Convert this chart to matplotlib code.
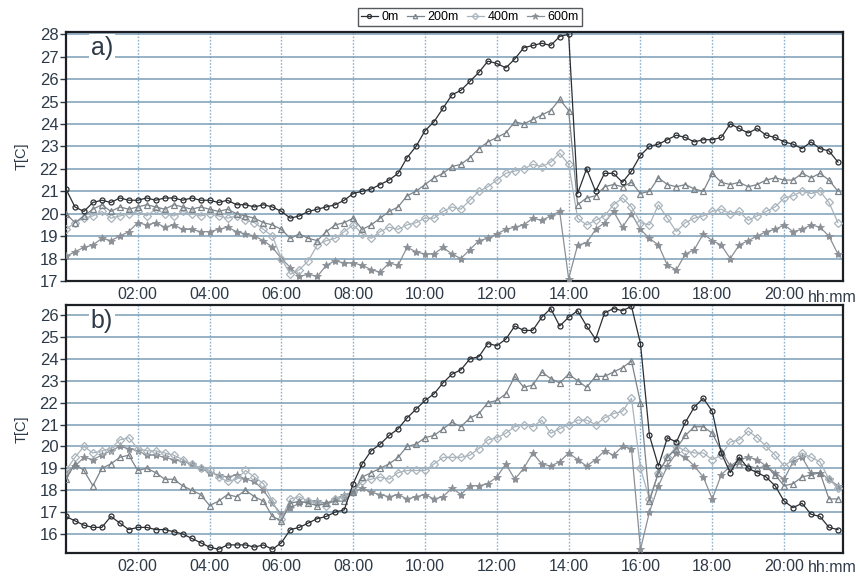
import matplotlib
matplotlib.use("Agg")
import matplotlib.pyplot as plt
import numpy as np

plt.rcParams["font.family"] = ["Liberation Sans", "DejaVu Sans"]

# time axis in hours, 15-minute steps
step_h = 0.25
n_pts = 87
hours = np.arange(n_pts) * step_h

series_labels = ["0m", "200m", "400m", "600m"]
tick_hours = [2, 4, 6, 8, 10, 12, 14, 16, 18, 20]
tick_labels = ["02:00", "04:00", "06:00", "08:00", "10:00",
               "12:00", "14:00", "16:00", "18:00", "20:00"]

# ---- panel a) ----
a_0m = [21.1, 20.3, 20.1, 20.5, 20.6, 20.5, 20.7, 20.6,
        20.6, 20.7, 20.6, 20.7, 20.7, 20.6, 20.7, 20.6,
        20.6, 20.5, 20.6, 20.4, 20.4, 20.3, 20.4, 20.3,
        20.1, 19.8, 19.9, 20.1, 20.2, 20.3, 20.4, 20.6,
        20.9, 21.0, 21.1, 21.3, 21.5, 21.8, 22.5, 23.0,
        23.7, 24.1, 24.7, 25.3, 25.5, 25.9, 26.3, 26.8,
        26.7, 26.5, 26.9, 27.4, 27.5, 27.6, 27.5, 27.9,
        28.0, 20.9, 22.0, 21.0, 21.8, 21.8, 21.4, 21.9,
        22.6, 23.0, 23.1, 23.3, 23.5, 23.4, 23.2, 23.3,
        23.3, 23.4, 24.0, 23.8, 23.6, 23.8, 23.5, 23.4,
        23.2, 23.1, 22.9, 23.2, 22.9, 22.8, 22.3]
a_200m = [20.0, 19.6, 19.9, 20.2, 20.4, 20.1, 20.3, 20.2,
          20.3, 20.4, 20.3, 20.2, 20.4, 20.3, 20.2, 20.3,
          20.2, 20.1, 20.2, 20.0, 19.9, 19.8, 19.6, 19.5,
          19.3, 18.9, 19.1, 18.9, 18.8, 19.2, 19.5, 19.6,
          19.8, 19.3, 19.5, 19.8, 20.1, 20.3, 20.8, 21.0,
          21.3, 21.6, 21.8, 22.1, 22.2, 22.5, 22.9, 23.2,
          23.4, 23.6, 24.1, 24.0, 24.2, 24.4, 24.6, 25.1,
          24.6, 20.4, 20.7, 20.8, 21.2, 21.3, 21.2, 21.4,
          20.9, 21.0, 21.6, 21.3, 21.2, 21.3, 21.1, 21.0,
          21.8, 21.4, 21.3, 21.4, 21.2, 21.3, 21.5, 21.6,
          21.5, 21.5, 21.8, 21.6, 21.8, 21.5, 21.0]
a_400m = [19.3, 19.6, 19.8, 19.9, 20.1, 19.8, 19.9, 20.0,
          20.1, 19.9, 20.2, 20.0, 19.9, 20.1, 20.0, 19.9,
          20.0, 19.9, 19.8, 19.9, 19.7, 19.6, 19.3, 19.0,
          18.0, 17.3, 17.5, 17.9, 18.6, 18.8, 18.9, 19.2,
          19.5, 19.1, 18.9, 19.2, 19.4, 19.3, 19.5, 19.6,
          19.8, 19.8, 20.1, 20.3, 20.2, 20.6, 21.0, 21.2,
          21.5, 21.8, 21.9, 22.0, 22.2, 22.1, 22.3, 22.7,
          22.2, 19.8, 19.5, 19.7, 19.9, 20.4, 20.7, 20.3,
          19.6, 19.5, 20.4, 19.8, 19.2, 19.6, 19.8, 19.9,
          20.1, 20.2, 20.0, 20.1, 19.7, 19.9, 20.1, 20.3,
          20.7, 20.8, 21.0, 20.9, 21.0, 20.5, 19.6]
a_600m = [18.1, 18.3, 18.5, 18.6, 18.9, 18.8, 19.0, 19.2,
          19.6, 19.5, 19.6, 19.4, 19.5, 19.3, 19.3, 19.2,
          19.2, 19.3, 19.4, 19.2, 19.1, 19.0, 18.8, 18.5,
          18.0, 17.6, 17.2, 17.3, 17.2, 17.7, 17.9, 17.8,
          17.8, 17.7, 17.5, 17.4, 17.8, 17.7, 18.5, 18.3,
          18.2, 18.2, 18.5, 18.2, 18.0, 18.4, 18.8, 18.9,
          19.1, 19.3, 19.4, 19.5, 19.8, 19.7, 19.9, 20.1,
          17.1, 18.6, 18.7, 19.3, 19.6, 20.1, 19.4, 20.0,
          19.3, 18.9, 18.6, 17.7, 17.5, 18.2, 18.4, 19.1,
          18.8, 18.6, 18.0, 18.6, 18.8, 19.0, 19.2, 19.3,
          19.5, 19.2, 19.3, 19.5, 19.4, 19.0, 18.2]

# ---- panel b) ----
b_0m = [16.8, 16.6, 16.4, 16.3, 16.3, 16.8, 16.5, 16.2,
        16.3, 16.3, 16.2, 16.2, 16.1, 16.0, 15.8, 15.6,
        15.4, 15.3, 15.5, 15.5, 15.5, 15.4, 15.5, 15.3,
        15.6, 16.2, 16.3, 16.5, 16.7, 16.8, 17.0, 17.1,
        18.3, 19.2, 19.8, 20.1, 20.5, 20.8, 21.3, 21.7,
        22.1, 22.4, 22.9, 23.3, 23.5, 24.0, 24.1, 24.7,
        24.6, 24.9, 25.5, 25.3, 25.3, 25.9, 26.3, 25.5,
        25.9, 26.2, 25.5, 24.9, 26.1, 26.3, 26.2, 26.4,
        24.7, 20.5, 19.1, 20.4, 20.2, 21.1, 21.8, 22.2,
        21.6, 19.7, 18.8, 19.5, 19.0, 18.8, 18.6, 18.2,
        17.5, 17.2, 17.4, 16.9, 16.8, 16.3, 16.2]
b_200m = [18.5, 19.2, 18.9, 18.2, 19.0, 19.2, 19.5, 19.6,
          18.9, 19.0, 18.8, 18.5, 18.5, 18.2, 18.0, 17.8,
          17.3, 17.5, 17.8, 17.7, 18.0, 17.7, 17.5, 16.8,
          16.6, 17.4, 17.5, 17.4, 17.3, 17.4, 17.5, 17.5,
          17.9, 18.6, 18.8, 19.0, 19.2, 19.5, 20.0, 20.1,
          20.4, 20.5, 20.8, 21.1, 20.9, 21.3, 21.5, 22.0,
          22.1, 22.4, 23.2, 22.7, 22.8, 23.4, 23.1, 22.9,
          23.3, 23.0, 22.7, 23.2, 23.2, 23.4, 23.6, 23.9,
          22.0, 17.5, 18.8, 19.5, 19.9, 20.5, 20.9, 20.9,
          20.6, 19.8, 19.1, 19.2, 19.1, 19.0, 19.1, 18.7,
          18.2, 18.3, 18.6, 18.7, 18.8, 17.6, 17.6]
b_400m = [18.9, 19.5, 20.0, 19.7, 19.8, 19.9, 20.3, 20.4,
          19.9, 19.8, 19.8, 19.7, 19.6, 19.4, 19.2, 19.0,
          18.9, 18.6, 18.4, 18.5, 18.9, 18.6, 18.3, 17.5,
          16.7, 17.6, 17.7, 17.5, 17.4, 17.3, 17.6, 17.7,
          17.9, 18.4, 18.5, 18.6, 18.5, 18.8, 18.9, 18.9,
          18.9, 19.2, 19.5, 19.5, 19.5, 19.6, 19.9, 20.3,
          20.4, 20.6, 20.9, 21.0, 20.9, 21.2, 20.6, 20.8,
          21.0, 21.2, 21.2, 21.0, 21.3, 21.5, 21.6, 22.2,
          19.0, 17.6, 18.8, 19.5, 20.0, 19.8, 19.7, 19.7,
          19.4, 19.6, 20.2, 20.3, 20.7, 20.4, 20.0, 19.6,
          19.1, 19.4, 19.7, 19.5, 19.3, 18.5, 18.1]
b_600m = [18.8, 19.1, 19.5, 19.4, 19.6, 19.8, 20.0, 19.9,
          19.8, 19.6, 19.6, 19.5, 19.4, 19.3, 19.2, 19.0,
          18.8, 18.7, 18.6, 18.7, 18.5, 18.4, 18.0, 17.4,
          16.9, 17.2, 17.4, 17.5, 17.5, 17.4, 17.6, 17.8,
          17.9, 18.1, 17.9, 17.8, 17.7, 17.8, 17.6, 17.7,
          17.8, 17.6, 17.7, 18.1, 17.8, 18.2, 18.2, 18.3,
          18.6, 19.2, 18.5, 19.0, 19.7, 19.2, 19.1, 19.3,
          19.7, 19.4, 19.1, 19.4, 19.8, 19.6, 20.0, 19.9,
          15.3, 17.0, 18.2, 19.1, 19.7, 19.5, 19.1, 18.6,
          17.6, 18.7, 19.1, 19.4, 19.5, 19.4, 19.1, 18.8,
          18.5, 19.3, 19.5, 18.8, 18.8, 18.5, 18.2]

panel_a = [a_0m, a_200m, a_400m, a_600m]
panel_b = [b_0m, b_200m, b_400m, b_600m]

styles = [
    dict(color="#2b2f33", marker="o", ms=3.6, mfc="none", mew=0.9, lw=0.9),
    dict(color="#7c848a", marker="^", ms=4.0, mfc="none", mew=0.9, lw=0.9),
    dict(color="#a9b4bc", marker="D", ms=4.0, mfc="none", mew=0.9, lw=0.9),
    dict(color="#8a9096", marker="*", ms=6.0, mfc="#8a9096", mew=0.6, lw=0.9),
]
# draw order: bottom-most layer first
draw_order = [3, 2, 1, 0]

tick_color = "#2d3a48"
fig = plt.figure(figsize=(8.6, 5.85), dpi=100)
ax_a = fig.add_axes([0.0767, 0.5197, 0.9035, 0.4248])
ax_b = fig.add_axes([0.0767, 0.0547, 0.9035, 0.4239])

handles = [None] * 4
for ax, data, ylim, yt, tag in [
    (ax_a, panel_a, (17, 28.08), range(17, 29), "a)"),
    (ax_b, panel_b, (15.13, 26.46), range(16, 27), "b)"),
]:
    for j, k in enumerate(draw_order):
        st = styles[k]
        (h,) = ax.plot(hours, data[k], color=st["color"], lw=st["lw"],
                       marker=st["marker"], ms=st["ms"], mfc=st["mfc"],
                       mec=st["color"], mew=st["mew"], label=series_labels[k],
                       zorder=3 + j * 0.1)
        handles[k] = h
    ax.set_xlim(0, 21.64)
    ax.set_ylim(*ylim)
    ax.set_yticks(list(yt))
    ax.set_xticks(tick_hours)
    ax.set_xticklabels(tick_labels)
    ax.grid(axis="y", color="#7b9cb6", lw=1.1, ls="-", zorder=1)
    ax.grid(axis="x", color="#8fb2cc", lw=1.0, ls=(0, (1.2, 1.2)), zorder=1)
    ax.set_axisbelow(True)
    for s in ax.spines.values():
        s.set_color("#1c2024")
        s.set_linewidth(1.6)
    ax.tick_params(axis="y", labelsize=12, colors=tick_color, length=4,
                   width=1.0, pad=1.5)
    ax.tick_params(axis="x", labelsize=11.5, colors=tick_color, length=0,
                   pad=4)
    ax.set_ylabel("T[C]", fontsize=10.5, color=tick_color, labelpad=8)
    ax.text(0.032, 0.985, tag, transform=ax.transAxes, fontsize=18,
            color="#2d3a48", va="top", ha="left", zorder=6,
            bbox=dict(facecolor="white", edgecolor="none", pad=1.5))

fig.text(808 / 860, 1 - 298 / 585, "hh:mm", fontsize=11.5, color=tick_color,
         va="center", ha="left")
fig.text(808 / 860, 1 - 568 / 585, "hh:mm", fontsize=11.5, color=tick_color,
         va="center", ha="left")

leg = fig.legend(handles, series_labels, loc="upper center",
                 bbox_to_anchor=(0.5465, 0.997), ncol=4, fontsize=9,
                 frameon=True, fancybox=False, handlelength=1.3,
                 handletextpad=0.3, columnspacing=0.7, borderpad=0.25,
                 markerscale=0.8)
leg.get_frame().set_edgecolor("#2b2f33")
leg.get_frame().set_linewidth(1.0)

fig.savefig("out.png", dpi=100)
